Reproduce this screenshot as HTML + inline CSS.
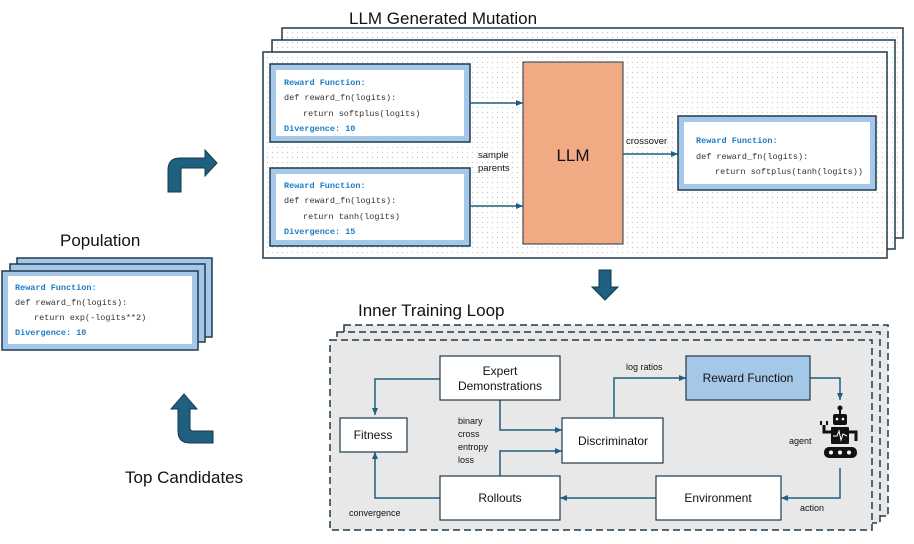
<!DOCTYPE html>
<html><head><meta charset="utf-8"><style>
html,body{margin:0;padding:0;background:#fff;}
svg{display:block;}
.t{font-family:"Liberation Sans",sans-serif;fill:#111;}
.m{font-family:"Liberation Mono",monospace;font-size:8.5px;fill:#333;}
.mb{font-family:"Liberation Mono",monospace;font-size:8.5px;fill:#1a7cc7;font-weight:bold;}
</style></head><body>
<svg width="914" height="544" viewBox="0 0 914 544" xmlns="http://www.w3.org/2000/svg">
<defs>
<pattern id="dots" width="5" height="5" patternUnits="userSpaceOnUse"><rect width="5" height="5" fill="#fff"/><circle cx="2.5" cy="2.5" r="0.6" fill="#c8c8c8"/></pattern>
<marker id="ah" markerWidth="8" markerHeight="8" refX="7" refY="4" orient="auto" markerUnits="userSpaceOnUse"><path d="M0,1 L7,4 L0,7 z" fill="#1f5f80"/></marker>
</defs>

<text class="t" x="349" y="24" font-size="17">LLM Generated Mutation</text>
<rect x="282" y="28" width="621" height="210" fill="url(#dots)" stroke="#1f3a4d" stroke-width="1.5"/>
<rect x="272" y="40" width="623" height="209" fill="url(#dots)" stroke="#1f3a4d" stroke-width="1.5"/>
<rect x="263" y="52" width="624" height="206" fill="url(#dots)" stroke="#1f3a4d" stroke-width="1.5"/>

<g>
<rect x="270" y="64" width="200" height="78" fill="#a6c8e8" stroke="#1f3a4d" stroke-width="1.5"/>
<rect x="276" y="70" width="188" height="66" fill="#fff"/>
<text class="mb" x="284" y="85">Reward Function:</text>
<text class="m" x="284" y="100">def reward_fn(logits):</text>
<text class="m" x="303" y="116">return softplus(logits)</text>
<text class="mb" x="284" y="131">Divergence: 10</text>
</g>
<g>
<rect x="270" y="168" width="200" height="78" fill="#a6c8e8" stroke="#1f3a4d" stroke-width="1.5"/>
<rect x="276" y="174" width="188" height="66" fill="#fff"/>
<text class="mb" x="284" y="188">Reward Function:</text>
<text class="m" x="284" y="203">def reward_fn(logits):</text>
<text class="m" x="303" y="219">return tanh(logits)</text>
<text class="mb" x="284" y="234">Divergence: 15</text>
</g>
<rect x="523" y="62" width="100" height="182" fill="#f0aa84" stroke="#1f3a4d" stroke-width="1"/>
<text class="t" x="573" y="161" font-size="17" text-anchor="middle">LLM</text>
<line x1="470" y1="103" x2="523" y2="103" stroke="#1f5f80" stroke-width="1.5" marker-end="url(#ah)"/>
<line x1="470" y1="206" x2="523" y2="206" stroke="#1f5f80" stroke-width="1.5" marker-end="url(#ah)"/>
<text class="t" x="478" y="158" font-size="9.5">sample</text>
<text class="t" x="478" y="171" font-size="9.5">parents</text>
<line x1="623" y1="154" x2="678" y2="154" stroke="#1f5f80" stroke-width="1.5" marker-end="url(#ah)"/>
<text class="t" x="626" y="144" font-size="9.5">crossover</text>
<g>
<rect x="678" y="116" width="198" height="74" fill="#a6c8e8" stroke="#1f3a4d" stroke-width="1.5"/>
<rect x="684" y="122" width="186" height="62" fill="#fff"/>
<text class="mb" x="696" y="143">Reward Function:</text>
<text class="m" x="696" y="159">def reward_fn(logits):</text>
<text class="m" x="715" y="174">return softplus(tanh(logits))</text>
</g>

<path d="M168,192 L168,170 Q168,158 180,158 L205,158 L205,150 L217,163 L205,176 L205,168 L182,168 Q181,168 181,170 L181,192 Z" fill="#1f5f80" stroke="#163a50" stroke-width="1"/>
<path d="M213,443 L190,443 Q178,443 178,431 L178,409 L171,409 L184,394 L197,409 L190,409 L190,428 Q190,431 193,431 L213,431 Z" fill="#1f5f80" stroke="#163a50" stroke-width="1"/>

<text class="t" x="60" y="246" font-size="17">Population</text>
<rect x="17" y="258" width="195" height="79" fill="#a6c8e8" stroke="#1f3a4d" stroke-width="1.5"/>
<rect x="10" y="264" width="195" height="78" fill="#a6c8e8" stroke="#1f3a4d" stroke-width="1.5"/>
<rect x="2" y="271" width="196" height="79" fill="#a6c8e8" stroke="#1f3a4d" stroke-width="1.5"/>
<rect x="8" y="276" width="184" height="68" fill="#fff"/>
<text class="mb" x="15" y="290">Reward Function:</text>
<text class="m" x="15" y="305">def reward_fn(logits):</text>
<text class="m" x="34" y="320">return exp(-logits**2)</text>
<text class="mb" x="15" y="335">Divergence: 10</text>

<text class="t" x="125" y="483" font-size="17">Top Candidates</text>

<path d="M599,270 L611,270 L611,287 L618,287 L605,300 L592,287 L599,287 Z" fill="#1f5f80" stroke="#163a50" stroke-width="1"/>

<text class="t" x="358" y="316" font-size="17">Inner Training Loop</text>
<rect x="344" y="325" width="544" height="191" fill="#e8e8e8" stroke="#1f3a4d" stroke-width="1.5" stroke-dasharray="7,4"/>
<rect x="337" y="332" width="543" height="191" fill="#e8e8e8" stroke="#1f3a4d" stroke-width="1.5" stroke-dasharray="7,4"/>
<rect x="330" y="340" width="542" height="190" fill="#e8e8e8" stroke="#1f3a4d" stroke-width="1.5" stroke-dasharray="7,4"/>

<g stroke="#1f5f80" stroke-width="1.5" fill="none">
<path d="M440,379 L375,379 L375,415" marker-end="url(#ah)"/>
<path d="M500,400 L500,430 L562,430" marker-end="url(#ah)"/>
<path d="M500,476 L500,451 L562,451" marker-end="url(#ah)"/>
<path d="M614,417 L614,378 L686,378" marker-end="url(#ah)"/>
<path d="M810,378 L840,378 L840,400" marker-end="url(#ah)"/>
<path d="M840,468 L840,498 L781,498" marker-end="url(#ah)"/>
<path d="M656,498 L560,498" marker-end="url(#ah)"/>
<path d="M440,498 L375,498 L375,452" marker-end="url(#ah)"/>
</g>

<g stroke="#1f3a4d" stroke-width="1.2">
<rect x="440" y="356" width="120" height="44" fill="#fff"/>
<rect x="340" y="418" width="67" height="34" fill="#fff"/>
<rect x="562" y="418" width="101" height="45" fill="#fff"/>
<rect x="686" y="356" width="124" height="44" fill="#a6c8e8"/>
<rect x="440" y="476" width="120" height="44" fill="#fff"/>
<rect x="656" y="476" width="125" height="44" fill="#fff"/>
</g>
<g class="t" font-size="12" text-anchor="middle">
<text x="500" y="375">Expert</text>
<text x="500" y="390">Demonstrations</text>
<text x="373" y="439">Fitness</text>
<text x="613" y="445">Discriminator</text>
<text x="748" y="382">Reward Function</text>
<text x="500" y="502">Rollouts</text>
<text x="718" y="502">Environment</text>
</g>
<g class="t" font-size="9">
<text x="626" y="370">log ratios</text>
<text x="458" y="424">binary</text>
<text x="458" y="437">cross</text>
<text x="458" y="450">entropy</text>
<text x="458" y="463">loss</text>
<text x="789" y="444">agent</text>
<text x="800" y="511">action</text>
<text x="349" y="516">convergence</text>
</g>

<g fill="#111">
<circle cx="840" cy="408" r="2.5"/>
<rect x="839" y="409" width="2" height="5"/>
<rect x="833" y="414" width="14" height="11" rx="2"/>
<circle cx="837" cy="419" r="1.3" fill="#fff"/><circle cx="843" cy="419" r="1.3" fill="#fff"/>
<rect x="831" y="427" width="18" height="17" rx="1"/>
<path d="M831,432 L824,432 L824,425" stroke="#111" stroke-width="3" fill="none"/>
<path d="M821,425 L821,421 M827,425 L827,421" stroke="#111" stroke-width="2"/>
<path d="M849,432 L856,432 L856,441" stroke="#111" stroke-width="3" fill="none"/>
<rect x="824" y="447" width="33" height="11" rx="5"/>
<circle cx="831" cy="452.5" r="2" fill="#fff"/><circle cx="840" cy="452.5" r="2" fill="#fff"/><circle cx="849" cy="452.5" r="2" fill="#fff"/>
<path d="M833,436 L837,436 L839,431 L841,440 L843,434 L847,436" stroke="#fff" stroke-width="1" fill="none"/>
</g>
</svg>
</body></html>
